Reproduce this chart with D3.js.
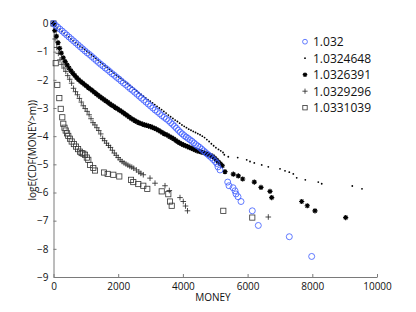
<!DOCTYPE html>
<html>
<head>
<meta charset="utf-8">
<script src="https://cdn.jsdelivr.net/npm/d3@7"></script>
<style>
  body { margin: 0; background: #fff; }
  svg { display: block; }
  text { font-family: "Open Sans", "DejaVu Sans", sans-serif; }
</style>
</head>
<body>
<div id="chart"></div>
<script>
// legend labels (one per series)
const seriesNames = ["1.032", "1.0324648", "1.0326391", "1.0329296", "1.0331039"];
const xTicks = [0, 2000, 4000, 6000, 8000, 10000];
const yTicks = [0, -1, -2, -3, -4, -5, -6, -7, -8, -9];

// [MONEY, logE(CDF)] pairs
const circles = [[0,0],[60,-0.06],[130,-0.13],[200,-0.2],[270,-0.27],[340,-0.34],[410,-0.41],[480,-0.48],[550,-0.55],[620,-0.62],[690,-0.69],[760,-0.76],[830,-0.83],[900,-0.9],[970,-0.97],[1040,-1.04],[1110,-1.1],[1180,-1.17],[1250,-1.24],[1320,-1.31],[1390,-1.38],[1460,-1.45],[1530,-1.51],[1600,-1.58],[1670,-1.64],[1740,-1.71],[1810,-1.78],[1880,-1.84],[1950,-1.91],[2020,-1.97],[2090,-2.04],[2160,-2.11],[2230,-2.17],[2300,-2.24],[2370,-2.31],[2440,-2.37],[2510,-2.44],[2580,-2.51],[2650,-2.58],[2720,-2.65],[2790,-2.72],[2860,-2.79],[2930,-2.86],[3000,-2.93],[3070,-3.0],[3140,-3.07],[3210,-3.13],[3280,-3.2],[3350,-3.27],[3420,-3.33],[3490,-3.39],[3560,-3.45],[3620,-3.52],[3680,-3.58],[3740,-3.65],[3800,-3.72],[3860,-3.79],[3920,-3.86],[3980,-3.92],[4040,-3.98],[4100,-4.03],[4160,-4.08],[4220,-4.13],[4280,-4.18],[4340,-4.24],[4400,-4.3],[4460,-4.35],[4520,-4.4],[4580,-4.46],[4640,-4.52],[4700,-4.58],[4760,-4.64],[4820,-4.7],[4880,-4.76],[4940,-4.83],[5000,-4.9],[5050,-4.97],[5085,-5.09],[5147,-5.2],[5385,-5.63],[5425,-5.76],[5549,-5.83],[5611,-5.94],[5641,-6.05],[5703,-6.15],[5796,-6.32],[6145,-6.65],[6331,-7.17],[7289,-7.57],[7981,-8.27]];

const dots = [[0,0],[60,-0.08],[120,-0.15],[190,-0.21],[260,-0.28],[330,-0.35],[400,-0.42],[470,-0.48],[540,-0.55],[610,-0.61],[680,-0.68],[750,-0.74],[820,-0.8],[890,-0.86],[960,-0.92],[1030,-0.98],[1100,-1.04],[1170,-1.11],[1240,-1.17],[1310,-1.24],[1380,-1.3],[1450,-1.37],[1520,-1.43],[1590,-1.5],[1660,-1.56],[1730,-1.63],[1800,-1.69],[1870,-1.76],[1940,-1.83],[2010,-1.89],[2080,-1.95],[2150,-2.01],[2220,-2.07],[2290,-2.13],[2360,-2.2],[2430,-2.26],[2500,-2.33],[2570,-2.39],[2640,-2.46],[2710,-2.52],[2780,-2.58],[2850,-2.64],[2920,-2.7],[2990,-2.76],[3060,-2.82],[3130,-2.88],[3200,-2.94],[3270,-3.0],[3340,-3.06],[3410,-3.12],[3480,-3.18],[3550,-3.25],[3620,-3.31],[3690,-3.37],[3760,-3.43],[3830,-3.48],[3900,-3.54],[3970,-3.6],[4040,-3.65],[4110,-3.7],[4180,-3.75],[4250,-3.79],[4320,-3.83],[4390,-3.87],[4460,-3.91],[4530,-3.95],[4600,-4.0],[4670,-4.05],[4740,-4.12],[4810,-4.19],[4880,-4.27],[4950,-4.34],[5020,-4.41],[5100,-4.47],[5170,-4.52],[5240,-4.58],[5280,-4.66],[5403,-4.73],[5694,-4.76],[5972,-4.84],[6074,-4.9],[6207,-4.95],[6436,-5.02],[6640,-5.09],[7002,-5.16],[7156,-5.23],[7289,-5.28],[7413,-5.34],[7518,-5.48],[7784,-5.55],[8185,-5.63],[8291,-5.69],[9236,-5.77],[9536,-5.87]];

const stars = [[0,0],[40,-0.25],[90,-0.45],[140,-0.68],[190,-0.88],[240,-1.05],[300,-1.22],[360,-1.35],[420,-1.47],[480,-1.58],[540,-1.68],[600,-1.77],[660,-1.85],[720,-1.93],[780,-2.0],[840,-2.06],[900,-2.11],[960,-2.17],[1020,-2.22],[1080,-2.28],[1140,-2.33],[1200,-2.38],[1260,-2.44],[1320,-2.49],[1380,-2.55],[1440,-2.6],[1500,-2.65],[1560,-2.7],[1620,-2.75],[1680,-2.8],[1740,-2.85],[1800,-2.9],[1860,-2.94],[1920,-2.99],[1980,-3.03],[2040,-3.08],[2100,-3.12],[2160,-3.17],[2220,-3.22],[2280,-3.27],[2340,-3.32],[2400,-3.37],[2460,-3.41],[2520,-3.45],[2580,-3.49],[2640,-3.52],[2700,-3.55],[2760,-3.58],[2820,-3.6],[2880,-3.62],[2940,-3.64],[3000,-3.66],[3060,-3.69],[3120,-3.72],[3180,-3.75],[3240,-3.79],[3300,-3.83],[3360,-3.87],[3420,-3.91],[3480,-3.94],[3540,-3.98],[3600,-4.02],[3660,-4.06],[3720,-4.1],[3780,-4.15],[3840,-4.2],[3900,-4.24],[3960,-4.28],[4020,-4.31],[4080,-4.34],[4140,-4.37],[4200,-4.4],[4260,-4.43],[4320,-4.46],[4380,-4.49],[4440,-4.52],[4500,-4.54],[4560,-4.56],[4620,-4.58],[4680,-4.6],[4740,-4.63],[4800,-4.66],[4860,-4.69],[4920,-4.72],[4980,-4.78],[5040,-4.85],[5100,-4.92],[5160,-4.98],[5220,-5.05],[5301,-5.26],[5558,-5.35],[5712,-5.41],[5848,-5.52],[6207,-5.63],[6414,-5.82],[6692,-5.96],[6745,-6.18],[7672,-6.32],[7845,-6.47],[8083,-6.65],[9032,-6.89]];

const pluses = [[0,0],[50,-0.55],[100,-0.85],[150,-1.06],[200,-1.29],[260,-1.45],[320,-1.58],[380,-1.7],[440,-1.85],[500,-1.98],[560,-2.12],[620,-2.3],[680,-2.42],[740,-2.53],[800,-2.66],[860,-2.79],[920,-2.92],[980,-3.02],[1040,-3.12],[1100,-3.24],[1160,-3.38],[1220,-3.52],[1280,-3.6],[1340,-3.7],[1400,-3.8],[1460,-3.92],[1520,-4.08],[1580,-4.16],[1640,-4.25],[1700,-4.33],[1760,-4.4],[1820,-4.5],[1880,-4.6],[1940,-4.68],[2000,-4.76],[2060,-4.84],[2120,-4.9],[2180,-4.95],[2240,-4.99],[2300,-5.03],[2360,-5.07],[2420,-5.1],[2480,-5.14],[2560,-5.2],[2640,-5.27],[2700,-5.32],[2776,-5.37],[2983,-5.49],[3138,-5.67],[3447,-5.76],[3580,-5.93],[3910,-6.18],[4012,-6.32],[4080,-6.48],[4142,-6.65],[6640,-6.87]];

const squares = [[0,0],[68,-1.41],[118,-2.18],[180,-2.65],[223,-3.03],[272,-3.33],[303,-3.56],[340,-3.7],[377,-3.8],[420,-3.9],[457,-3.99],[510,-4.09],[563,-4.19],[630,-4.28],[696,-4.37],[760,-4.46],[819,-4.55],[870,-4.6],[920,-4.62],[974,-4.66],[1030,-4.76],[1076,-4.84],[1128,-5.02],[1230,-5.13],[1283,-5.22],[1561,-5.29],[1675,-5.34],[1849,-5.37],[2034,-5.43],[2396,-5.55],[2467,-5.63],[2621,-5.7],[2776,-5.76],[2899,-5.87],[3345,-5.96],[3549,-6.06],[3601,-6.32],[3654,-6.47],[5249,-6.65],[6145,-6.89]];

const width = 416, height = 312;
const margin = { top: 23.5, right: 39, bottom: 35, left: 53.5 };

const svg = d3.select("#chart")
  .append("svg")
  .attr("width", width)
  .attr("height", height);

const x = d3.scaleLinear()
  .domain([0, 10000])
  .range([margin.left, width - margin.right]);

const y = d3.scaleLinear()
  .domain([-9, 0])
  .range([height - margin.bottom, margin.top]);

// axes: matlab style, ticks pointing inward, grey axis line
const xAxis = svg.append("g")
  .attr("transform", `translate(0,${height - margin.bottom})`)
  .call(d3.axisBottom(x).tickValues(xTicks).tickFormat(d3.format("d"))
    .tickSizeInner(-3).tickSizeOuter(0).tickPadding(6));

const yAxis = svg.append("g")
  .attr("transform", `translate(${margin.left},0)`)
  .call(d3.axisLeft(y).tickValues(yTicks).tickSizeInner(-3).tickSizeOuter(0).tickPadding(5));

[xAxis, yAxis].forEach(g => {
  g.select(".domain").attr("stroke", "#7a7a7a").attr("stroke-width", 1);
  g.selectAll(".tick line").attr("stroke", "#7a7a7a");
  g.selectAll(".tick text")
    .attr("fill", "#111")
    .style("font-size", "10px");
});

svg.append("text")
  .attr("x", 213)
  .attr("y", 301)
  .attr("text-anchor", "middle")
  .style("font-size", "10px")
  .attr("fill", "#111")
  .text("MONEY");

svg.append("text")
  .attr("transform", `translate(36,${(y(0) + y(-9)) / 2}) rotate(-90)`)
  .attr("text-anchor", "middle")
  .style("font-size", "10px")
  .attr("fill", "#111")
  .text("logE(CDF(MONEY>m))");

// marker painters
function drawCircle(g, cx, cy, r) {
  g.append("circle").attr("cx", cx).attr("cy", cy).attr("r", r)
    .attr("fill", "none").attr("stroke", "#3b5bff").attr("stroke-width", 0.8);
}
function drawDot(g, cx, cy) {
  g.append("circle").attr("cx", cx).attr("cy", cy).attr("r", 0.9)
    .attr("fill", "#000");
}
function drawStar(g, cx, cy, s) {
  const d = s * 0.7;
  g.append("path")
    .attr("d", `M${cx - s},${cy}H${cx + s}M${cx},${cy - s}V${cy + s}M${cx - d},${cy - d}L${cx + d},${cy + d}M${cx - d},${cy + d}L${cx + d},${cy - d}`)
    .attr("stroke", "#000").attr("stroke-width", 1.2).attr("fill", "none");
}
function drawPlus(g, cx, cy, s) {
  g.append("path")
    .attr("d", `M${cx - s},${cy}H${cx + s}M${cx},${cy - s}V${cy + s}`)
    .attr("stroke", "#222").attr("stroke-width", 0.8).attr("fill", "none");
}
function drawSquare(g, cx, cy, s) {
  g.append("rect").attr("x", cx - s).attr("y", cy - s).attr("width", 2 * s).attr("height", 2 * s)
    .attr("fill", "none").attr("stroke", "#333").attr("stroke-width", 0.8);
}

const plot = svg.append("g");
const painters = [
  (g, cx, cy) => drawCircle(g, cx, cy, 3),
  (g, cx, cy) => drawDot(g, cx, cy),
  (g, cx, cy) => drawStar(g, cx, cy, 2.6),
  (g, cx, cy) => drawPlus(g, cx, cy, 2.8),
  (g, cx, cy) => drawSquare(g, cx, cy, 2.6)
];
const allSeries = [circles, dots, stars, pluses, squares];

// draw in reverse so the blue circles sit on top like the original
[4, 3, 2, 1, 0].forEach(i => {
  const g = plot.append("g");
  allSeries[i].forEach(([m, v]) => painters[i](g, x(m), y(v)));
});

// legend
const legend = svg.append("g");
seriesNames.forEach((name, i) => {
  const ly = 41.7 + i * 16.5;
  const g = legend.append("g");
  if (i === 0) drawCircle(g, 305, ly, 2.4);
  if (i === 1) drawDot(g, 305, ly);
  if (i === 2) drawStar(g, 305, ly, 2.3);
  if (i === 3) drawPlus(g, 305, ly, 2.6);
  if (i === 4) drawSquare(g, 305, ly, 2.2);
  legend.append("text")
    .attr("x", 313)
    .attr("y", ly)
    .attr("dy", "0.36em")
    .style("font-size", "12px")
    .attr("fill", "#111")
    .text(name);
});
</script>
</body>
</html>
